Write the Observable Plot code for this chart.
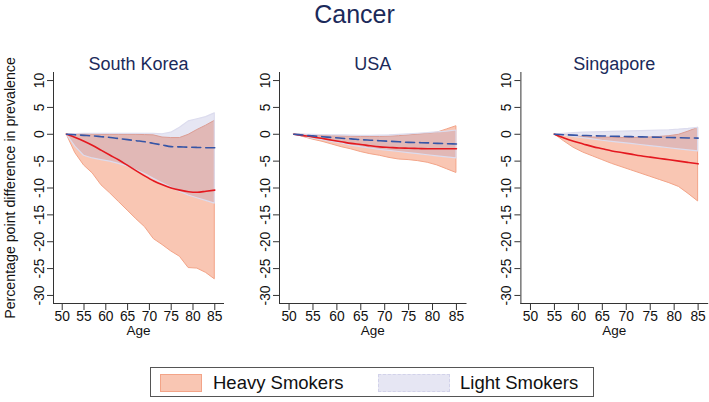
<!DOCTYPE html>
<html><head><meta charset="utf-8">
<script src="https://cdn.jsdelivr.net/npm/d3@7"></script>
<script src="https://cdn.jsdelivr.net/npm/@observablehq/plot@0.6"></script>
<style>
body{margin:0;background:#fff;font-family:"Liberation Sans",Arial,sans-serif;}
#root{position:relative;width:709px;height:402px;overflow:hidden;background:#fff;}
.abs{position:absolute;}
#title{left:0;top:0;width:709px;text-align:center;font-size:25px;line-height:28px;color:#1b2a5a;}
#legend{left:150px;top:367px;width:444px;height:30px;border:1px solid #555;box-sizing:border-box;}
.sw{position:absolute;top:6px;height:18px;box-sizing:border-box;}
.lt{position:absolute;top:0;line-height:29px;font-size:18.5px;color:#111;white-space:nowrap;}
.panel svg{overflow:visible;}
</style></head>
<body><div id="root">
<div id="title" class="abs">Cancer</div>
<div id="p1" class="abs panel" style="left:0;top:0"></div>
<div id="p2" class="abs panel" style="left:230px;top:0"></div>
<div id="p3" class="abs panel" style="left:470px;top:0"></div>
<div id="legend" class="abs">
  <div class="sw" style="left:9px;width:42px;background:#f9c6b3;border:1px solid #f3a488"></div>
  <div class="lt" style="left:62px" id="lg1"></div>
  <div class="sw" style="left:227px;width:72px;background:#e6e6f3;border:1px dashed #d2d2ea"></div>
  <div class="lt" style="left:309px" id="lg2"></div>
</div>
</div>
<script>
const countries = ["South Korea", "USA", "Singapore"];
const seriesNames = ["Heavy Smokers", "Light Smokers"];
const xTicks = [50, 55, 60, 65, 70, 75, 80, 85];
const yTicks = [-30, -25, -20, -15, -10, -5, 0, 5, 10];
const yTitle = "Percentage point difference in prevalence";
const xTitle = "Age";

// South Korea
const ageKR = [51,53,55,57,59,61,63,65,67,69,71,73,75,77,79,81,83,85];
const heavyLoKR = [0,-3.5,-5.8,-7.3,-9.5,-11,-12.6,-14.2,-15.8,-17.3,-19.5,-20.6,-21.8,-22.8,-24.9,-25,-25.8,-27];
const heavyHiKR = [0,0,0,-0.05,-0.1,-0.1,-0.1,-0.1,-0.1,-0.15,-0.2,-0.6,-0.7,-0.7,-0.1,0.8,1.6,2.5];
const heavyMeanKR = [0,-0.6,-1.3,-2.1,-3.0,-3.9,-4.8,-5.8,-6.8,-7.8,-8.7,-9.4,-10.0,-10.4,-10.7,-10.8,-10.6,-10.4];
const lightLoKR = [0,-2.3,-4.0,-4.5,-4.8,-5.1,-5.5,-6.0,-6.7,-7.4,-8.3,-9.1,-9.9,-10.7,-11.4,-11.9,-12.4,-12.9];
const lightHiKR = [0,0.05,0.1,0.1,0.1,0.1,0.1,0.1,0.1,0.1,0.1,0,0.3,1.2,2.4,2.8,3.2,3.9];
const lightMeanKR = [0,-0.1,-0.2,-0.3,-0.45,-0.6,-0.8,-1.0,-1.2,-1.4,-1.7,-2.0,-2.3,-2.35,-2.4,-2.45,-2.5,-2.5];

// USA
const ageUS = [51,53,55,57,59,61,63,65,67,69,71,73,75,77,79,81,83,85];
const heavyLoUS = [0,-0.5,-1.0,-1.4,-1.9,-2.4,-2.8,-3.3,-3.7,-4.0,-4.4,-4.7,-4.8,-5.0,-5.3,-5.8,-6.5,-7.2];
const heavyHiUS = [0,-0.1,-0.2,-0.3,-0.35,-0.4,-0.45,-0.5,-0.5,-0.5,-0.45,-0.35,-0.2,-0.05,0.1,0.3,0.9,1.5];
const heavyMeanUS = [0,-0.25,-0.5,-0.8,-1.1,-1.4,-1.7,-1.9,-2.15,-2.35,-2.45,-2.55,-2.6,-2.65,-2.7,-2.7,-2.7,-2.7];
const lightLoUS = [0,-0.4,-0.8,-1.1,-1.4,-1.7,-2.1,-2.4,-2.65,-2.9,-3.1,-3.3,-3.5,-3.7,-3.9,-4.1,-4.3,-4.5];
const lightHiUS = [0,-0.05,-0.1,-0.15,-0.2,-0.2,-0.25,-0.3,-0.3,-0.25,-0.2,-0.1,0,0.1,0.2,0.35,0.5,0.7];
const lightMeanUS = [0,-0.15,-0.3,-0.45,-0.6,-0.75,-0.85,-1.0,-1.1,-1.2,-1.3,-1.4,-1.5,-1.55,-1.6,-1.7,-1.75,-1.8];

// Singapore
const ageSG = [55,57,59,61,63,65,67,69,71,73,75,77,79,81,83,85];
const heavyLoSG = [0,-1.3,-2.5,-3.4,-4.1,-4.8,-5.5,-6.1,-6.7,-7.3,-7.9,-8.5,-9.1,-9.8,-11.1,-12.5];
const heavyHiSG = [0,-0.2,-0.4,-0.5,-0.6,-0.6,-0.65,-0.7,-0.7,-0.65,-0.6,-0.5,-0.35,-0.1,0.5,1.2];
const heavyMeanSG = [0,-0.7,-1.3,-1.8,-2.3,-2.7,-3.1,-3.4,-3.7,-4.0,-4.25,-4.5,-4.75,-5.0,-5.25,-5.5];
const lightLoSG = [0,-0.25,-0.5,-0.7,-0.95,-1.2,-1.4,-1.6,-1.8,-2.0,-2.2,-2.4,-2.6,-2.8,-3.0,-3.2];
const lightHiSG = [0,0.1,0.2,0.3,0.35,0.4,0.45,0.5,0.55,0.6,0.65,0.7,0.75,0.85,1.0,1.2];
const lightMeanSG = [0,-0.08,-0.16,-0.22,-0.28,-0.32,-0.36,-0.4,-0.44,-0.48,-0.52,-0.56,-0.6,-0.64,-0.68,-0.72];

const FONT = "'Liberation Sans', Arial, Helvetica, sans-serif";

function rowsOf(ages, hLo, hHi, hMean, lLo, lHi, lMean) {
  return ages.map((a, i) => ({age: a, hLo: hLo[i], hHi: hHi[i], hMean: hMean[i], lLo: lLo[i], lHi: lHi[i], lMean: lMean[i]}));
}

function panel(title, rows, width, mLeft, mRight, withYTitle) {
  const marks = [
    Plot.areaY(rows, {x: "age", y1: "hLo", y2: "hHi", fill: "#f9c6b3", stroke: "#f3a488", strokeWidth: 1}),
    Plot.areaY(rows, {x: "age", y1: "lLo", y2: "lHi", fill: "#8282c4", fillOpacity: 0.2, stroke: "#dcdcee", strokeWidth: 1.2}),
    Plot.lineY(rows, {x: "age", y: "hMean", stroke: "#e4181f", strokeWidth: 1.6, curve: "monotone-x"}),
    Plot.lineY(rows, {x: "age", y: "lMean", stroke: "#3655a6", strokeWidth: 1.6, strokeDasharray: "9,5", curve: "monotone-x"}),
    Plot.frame({anchor: "left", stroke: "#333"}),
    Plot.frame({anchor: "bottom", stroke: "#333"}),
    Plot.axisX({ticks: xTicks, tickSize: 7, tickPadding: 1, label: null, tickFormat: d => String(d), stroke: "#333", fill: "#111"}),
    Plot.axisY({ticks: yTicks, tickSize: 6, tickPadding: 4, tickRotate: -90, label: null, tickFormat: d => String(d), stroke: "#333", fill: "#111"}),
    Plot.text([title], {frameAnchor: "top", dy: -15, fontSize: 18, fill: "#1b2a5a"}),
    Plot.text([xTitle], {frameAnchor: "bottom", dy: 31, fontSize: 13.5, fill: "#111"})
  ];
  if (withYTitle) marks.push(Plot.text([yTitle], {frameAnchor: "left", textAnchor: "middle", rotate: -90, dx: -43, fontSize: 14.2, fill: "#111"}));
  return Plot.plot({
    width, height: 345,
    marginTop: 72, marginBottom: 42, marginLeft: mLeft, marginRight: mRight,
    style: {fontFamily: FONT, fontSize: "13.8px", background: "transparent", overflow: "visible"},
    x: {domain: [48, 87]},
    y: {domain: [-31.5, 11.5]},
    marks
  });
}

document.getElementById("p1").appendChild(panel(countries[0], rowsOf(ageKR, heavyLoKR, heavyHiKR, heavyMeanKR, lightLoKR, lightHiKR, lightMeanKR), 230, 53, 7, true));
document.getElementById("p2").appendChild(panel(countries[1], rowsOf(ageUS, heavyLoUS, heavyHiUS, heavyMeanUS, lightLoUS, lightHiUS, lightMeanUS), 237, 49, 1.5, false));
document.getElementById("p3").appendChild(panel(countries[2], rowsOf(ageSG, heavyLoSG, heavyHiSG, heavyMeanSG, lightLoSG, lightHiSG, lightMeanSG), 239, 50.4, 1.8, false));
document.getElementById("lg1").textContent = seriesNames[0];
document.getElementById("lg2").textContent = seriesNames[1];
</script>
</body></html>
